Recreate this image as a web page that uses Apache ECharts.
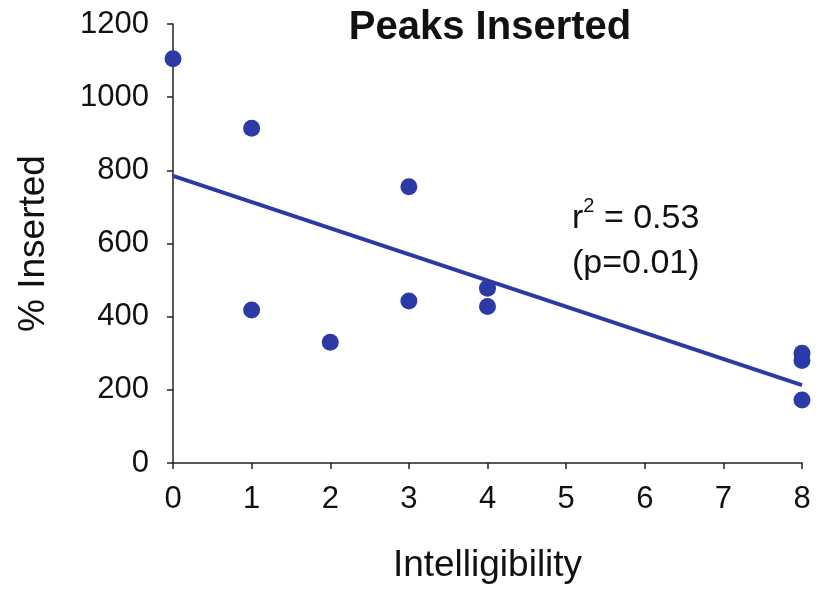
<!DOCTYPE html>
<html>
<head>
<meta charset="utf-8">
<script src="https://cdn.jsdelivr.net/npm/echarts@6/dist/echarts.min.js"></script>
<style>html,body{margin:0;padding:0;background:#fff}#c{width:824px;height:592px}</style>
</head>
<body>
<div id="c"></div>
<script>
// Data
var intelligibility = [0, 1, 1, 2, 3, 3, 4, 4, 8, 8, 8];
var pctInserted     = [1105, 915, 418, 330, 755, 443, 478, 428, 300, 280, 172];
var fitX = [0, 8];
var fitY = [785, 213];
var titleText = 'Peaks Inserted';
var xName = 'Intelligibility';
var yName = '% Inserted';
var statLine1 = '0.53';
var statLine2 = '(p=0.01)';

var FONT = '"Liberation Sans", Arial, Helvetica, sans-serif';
var BLUE = '#2b3aa6';

var points = intelligibility.map(function (x, i) { return [x, pctInserted[i]]; });
var fit = fitX.map(function (x, i) { return [x, fitY[i]]; });

var chart = echarts.init(document.getElementById('c'));
chart.setOption({
  backgroundColor: '#fff',
  animation: false,
  title: {
    text: titleText,
    left: 485, top: 3, textAlign: 'center',
    textStyle: { fontFamily: FONT, fontSize: 40, fontWeight: 'bold', color: '#111' }
  },
  grid: { left: 173, right: 22, top: 24, bottom: 129, containLabel: false },
  xAxis: {
    type: 'value', min: 0, max: 8, interval: 1,
    name: xName, nameLocation: 'middle', nameGap: 84,
    nameTextStyle: { fontFamily: FONT, fontSize: 37, color: '#111' },
    axisLine: { lineStyle: { color: '#222', width: 1.5 } },
    axisTick: { show: true, length: 6, inside: false, lineStyle: { color: '#222', width: 1.5 } },
    axisLabel: { fontFamily: FONT, fontSize: 31, color: '#111', margin: 21,
      formatter: function (v) { return String(v); } },
    splitLine: { show: false }
  },
  yAxis: {
    type: 'value', min: 0, max: 1200, interval: 200,
    name: yName, nameLocation: 'middle', nameGap: 121, nameRotate: 90,
    nameTextStyle: { fontFamily: FONT, fontSize: 37, color: '#111' },
    axisLine: { show: true, lineStyle: { color: '#222', width: 1.5 } },
    axisTick: { show: true, length: 6, inside: false, lineStyle: { color: '#222', width: 1.5 } },
    axisLabel: { fontFamily: FONT, fontSize: 31, color: '#111', margin: 24,
      formatter: function (v) { return String(v); } },
    splitLine: { show: false }
  },
  graphic: [{
    type: 'text', left: 572, top: 196,
    style: {
      text: '{b|r}{s|2}{b| = ' + statLine1 + '}\n{b|' + statLine2 + '}',
      rich: {
        b: { fontFamily: FONT, fontSize: 34, fill: '#111', lineHeight: 45 },
        s: { fontFamily: FONT, fontSize: 20, fill: '#111', verticalAlign: 'top', lineHeight: 45, padding: [0, 0, 14, 0] }
      }
    }
  }],
  series: [{
    type: 'line', data: fit, showSymbol: false, symbol: 'none',
    lineStyle: { color: BLUE, width: 4 }, z: 2
  }, {
    type: 'scatter', data: points, symbolSize: 17,
    itemStyle: { color: BLUE, opacity: 1 }, z: 3
  }]
});
</script>
</body>
</html>
